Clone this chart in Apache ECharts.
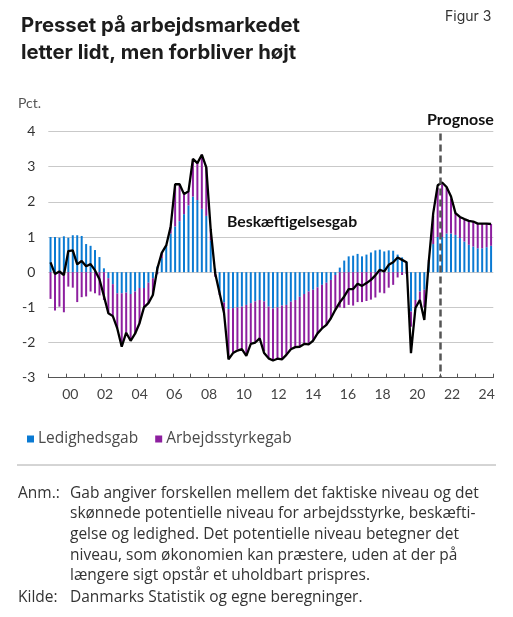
<!DOCTYPE html>
<html>
<head>
<meta charset="utf-8">
<script src="https://cdn.jsdelivr.net/npm/echarts@6/dist/echarts.min.js"></script>
<style>
  html, body { margin: 0; padding: 0; background: #fff; }
  #chart { width: 513px; height: 617px; }
</style>
</head>
<body>
<div id="chart"></div>
<script>
// kvartaler 2000K1 - 2024K4
var startYear = 2000;
var nYears = 25;
var quarters = [];
for (var y = 0; y < nYears; y++) {
    for (var q = 1; q <= 4; q++) {
        quarters.push((startYear + y) + 'K' + q);
    }
}

// Ledighedsgab (blå)
var ledighedsgab = [
    1.0, 1.0, 0.98, 1.02, 0.98, 1.05, 1.05, 1.03, 0.8, 0.75, 0.63, 0.43, 0.11,
    -0.17, -0.34, -0.6, -0.6, -0.58, -0.62, -0.55, -0.45, -0.45, -0.3, -0.17,
    0.16, 0.4, 0.75, 1.1, 1.3, 1.45, 1.65, 1.9, 2.15, 2.05, 1.8, 1.6, 0.9, 0.1,
    -0.6, -0.86, -1.05, -1.02, -1.0, -0.98, -0.93, -0.88, -0.83, -0.79, -0.83, -0.98,
    -1.03, -1.0, -0.95, -0.93, -0.84, -0.79, -0.7, -0.62, -0.55, -0.5, -0.43, -0.36,
    -0.3, -0.22, -0.08, 0.13,
    0.33, 0.45, 0.47, 0.52, 0.45, 0.5, 0.56, 0.62, 0.64, 0.59, 0.62, 0.61, 0.5, 0.42, 0.3,
    -1.12, -0.79, -0.55, -0.5, 0.3, 0.8, 1.0, 1.0, 1.1, 1.1, 1.06, 0.97, 0.87, 0.78,
    0.73, 0.68, 0.68, 0.71, 0.75
];

// Arbejdsstyrkegab (lilla)
var arbejdsstyrkegab = [
    -0.76, -1.09, -0.98, -1.14, -0.41, -0.44, -0.85, -0.71, -0.69, -0.55, -0.6, -0.66, -0.79,
    -1.0, -0.9, -1.0, -1.5, -1.14, -1.33, -1.2, -1.0, -0.55, -0.58, -0.48,
    -0.06, 0.15, 0.02, 0.2, 1.2, 1.05, 0.57, 0.4, 1.07, 1.05, 1.54, 1.38, 0.3, -0.13,
    -0.05, -0.31, -1.4, -1.25, -1.2, -1.2, -1.4, -1.14, -1.15, -1.08, -1.42, -1.45,
    -1.45, -1.44, -1.5, -1.4, -1.32, -1.32, -1.4, -1.4, -1.5, -1.45, -1.3, -1.25,
    -1.2, -1.1, -0.97, -1.0,
    -1.02, -0.93, -0.95, -0.85, -0.85, -0.82, -0.78, -0.72, -0.58, -0.6, -0.44, -0.36, -0.15, -0.08, -0.05,
    -0.43, -0.23, -0.28, -0.5, 0.05, 0.8, 1.4, 1.5, 1.3, 1.0, 0.62, 0.6, 0.65, 0.68,
    0.71, 0.71, 0.7, 0.67, 0.62
];

// Beskæftigelsesgab (sort linje)
var beskaeftigelsesgab = [
    0.28, -0.05, 0.02, -0.08, 0.6, 0.62, 0.22, 0.32, 0.17, 0.23, 0.05, -0.2, -0.68,
    -1.17, -1.25, -1.6, -2.12, -1.72, -1.95, -1.75, -1.45, -1.0, -0.88, -0.65,
    0.1, 0.55, 0.76, 1.3, 2.5, 2.5, 2.22, 2.3, 3.22, 3.1, 3.34, 2.98, 1.2, -0.03,
    -0.6, -1.17, -2.48, -2.3, -2.23, -2.19, -2.38, -2.04, -2.0, -1.88, -2.3, -2.45,
    -2.51, -2.46, -2.48, -2.35, -2.19, -2.13, -2.12, -2.04, -2.05, -1.95, -1.74, -1.6,
    -1.5, -1.31, -1.07, -0.86,
    -0.69, -0.48, -0.48, -0.33, -0.39, -0.31, -0.22, -0.09, 0.07, 0.02, 0.21, 0.28, 0.42, 0.35, 0.28,
    -2.3, -1.02, -0.79, -1.36, 0.3, 1.68, 2.47, 2.55, 2.42, 2.15, 1.68, 1.57, 1.51, 1.46,
    1.44, 1.38, 1.38, 1.38, 1.37
];

// aksetekster
var yearLabels = ['00', '02', '04', '06', '08', '10', '12', '14', '16', '18', '20', '22', '24'];
var labelYears = [0, 2, 4, 6, 8, 10, 12, 14, 16, 18, 20, 22, 24];
var prognoseStart = 88; // 2022K1

var blue = '#0a7ad3';
var purple = '#8d1f9f';
var fontUI = 'Lato';
var fontHead = 'Inter';
var fontNote = 'Open Sans';

var anmTekst = 'Gab angiver forskellen mellem det faktiske niveau og det\n' +
    'skønnede potentielle niveau for arbejdsstyrke, beskæfti-\n' +
    'gelse og ledighed. Det potentielle niveau betegner det\n' +
    'niveau, som økonomien kan præstere, uden at der på\n' +
    'længere sigt opstår et uholdbart prispres.';

function noteStyle(txt) {
    return { text: txt, fontSize: 15.5, fontFamily: fontNote, lineHeight: 20.6, fill: '#333' };
}

var chart = echarts.init(document.getElementById('chart'), null, { renderer: 'canvas' });

var option = {
    animation: false,
    backgroundColor: '#fff',
    textStyle: { fontFamily: fontUI },
    title: {
        text: 'Presset på arbejdsmarkedet\nletter lidt, men forbliver højt',
        left: 16,
        top: 7,
        textStyle: {
            fontFamily: fontHead,
            fontSize: 20.3,
            fontWeight: 'bold',
            lineHeight: 27,
            color: '#1c1c1c'
        }
    },
    legend: {
        left: 22,
        top: 426,
        icon: 'rect',
        itemWidth: 7,
        itemHeight: 7,
        itemGap: 17,
        textStyle: { fontFamily: fontNote, fontSize: 15.5, color: '#4a4a4a', padding: [0, 0, 0, -1] },
        data: ['Ledighedsgab', 'Arbejdsstyrkegab']
    },
    grid: {
        left: 48.3,
        right: 19.7,
        top: 131.5,
        bottom: 239.3,
        containLabel: false
    },
    xAxis: [{
        type: 'category',
        data: quarters,
        boundaryGap: true,
        axisLine: { onZero: false, lineStyle: { color: '#555', width: 1 } },
        axisTick: { show: true, inside: true, length: 4, interval: 3, lineStyle: { color: '#555' } },
        axisLabel: { show: false },
        splitLine: { show: false }
    }, {
        // kun årstal
        type: 'value',
        position: 'bottom',
        min: -1.27,
        max: 24.38,
        axisLine: { show: false },
        axisTick: { show: false },
        splitLine: { show: false },
        axisLabel: {
            customValues: labelYears,
            margin: 10,
            fontSize: 14,
            color: '#444',
            fontFamily: fontUI,
            formatter: function (v) {
                return yearLabels[labelYears.indexOf(Math.round(v))];
            }
        }
    }],
    yAxis: {
        type: 'value',
        min: -3,
        max: 4,
        interval: 1,
        axisLine: { show: false },
        axisTick: { show: false },
        axisLabel: { fontSize: 14, color: '#333', margin: 13, fontFamily: fontUI },
        splitLine: { lineStyle: { color: '#c9c9c9', width: 1 } }
    },
    graphic: [
        { id: 'figur', type: 'text', left: 445, top: 10, style: { text: 'Figur 3', fontSize: 14, fontFamily: fontHead, fill: '#333' } },
        { id: 'pct', type: 'text', left: 18, top: 96, style: { text: 'Pct.', fontSize: 14, fontFamily: fontUI, fill: '#555' } },
        { id: 'prog', type: 'text', left: 427, top: 112, style: { text: 'Prognose', fontSize: 16, fontWeight: 'bold', fontFamily: fontUI, fill: '#111' } },
        { id: 'besk', type: 'text', left: 227, top: 214, style: { text: 'Beskæftigelsesgab', fontSize: 15.8, fontWeight: 'bold', fontFamily: fontUI, fill: '#111' } },
        { id: 'sep', type: 'line', shape: { x1: 17, y1: 465, x2: 496, y2: 465 }, style: { stroke: '#aaa', lineWidth: 1 } },
        { id: 'anm', type: 'text', left: 18, top: 483, style: noteStyle('Anm.:') },
        { id: 'anmtxt', type: 'text', left: 70, top: 483, style: noteStyle(anmTekst) },
        { id: 'kilde', type: 'text', left: 18, top: 587, style: noteStyle('Kilde:') },
        { id: 'kildetxt', type: 'text', left: 70, top: 587, style: noteStyle('Danmarks Statistik og egne beregninger.') }
    ],
    series: [{
        name: 'Ledighedsgab',
        type: 'bar',
        stack: 'gab',
        barWidth: 2,
        itemStyle: { color: blue },
        data: ledighedsgab
    }, {
        name: 'Arbejdsstyrkegab',
        type: 'bar',
        stack: 'gab',
        barWidth: 2,
        itemStyle: { color: purple },
        data: arbejdsstyrkegab
    }, {
        name: 'Beskæftigelsesgab',
        type: 'line',
        data: beskaeftigelsesgab,
        showSymbol: false,
        symbol: 'none',
        z: 5,
        lineStyle: { color: '#000', width: 2.3 }
    }]
};

chart.setOption(option);

// prognoselinje mellem 2021K4 og 2022K1, placeret via aksens skala
var xa = chart.convertToPixel({ xAxisIndex: 0 }, quarters[prognoseStart - 1]);
var xb = chart.convertToPixel({ xAxisIndex: 0 }, quarters[prognoseStart]);
var xm = Math.round((xa + xb) / 2) + 0.5;
var yTop = chart.convertToPixel({ yAxisIndex: 0 }, 4) + 2;
var yBot = chart.convertToPixel({ yAxisIndex: 0 }, -3);
chart.setOption({
    graphic: [{
        id: 'prognoseLinje',
        type: 'line',
        z: 10,
        shape: { x1: xm, y1: yTop, x2: xm, y2: yBot },
        style: { stroke: '#555', lineWidth: 2.5, lineDash: [7, 4] }
    }]
});
</script>
</body>
</html>
